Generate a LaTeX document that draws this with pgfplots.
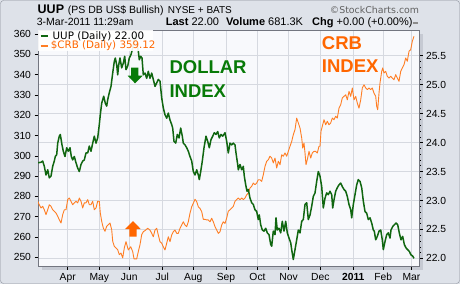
\documentclass[border=0pt]{standalone}
\usepackage{pgfplots}
\pgfplotsset{compat=1.18}
\usepackage{fontspec}
\setmainfont{Liberation Sans}
\newfontfamily\dejavu{DejaVu Sans}
\definecolor{outerbg}{RGB}{222,226,233}
\definecolor{plotbg}{RGB}{248,249,252}
\definecolor{gridcol}{RGB}{214,217,224}
\definecolor{axiscol}{RGB}{115,118,128}
\definecolor{shadowcol}{RGB}{198,202,211}
\definecolor{bordercol}{RGB}{140,145,155}
\definecolor{uupgreen}{RGB}{16,102,16}
\definecolor{txtgreen}{RGB}{8,122,8}
\definecolor{crborange}{RGB}{255,126,36}
\definecolor{txtorange}{RGB}{255,102,0}
\pgfplotsset{
  base/.style={scale only axis, width=381pt, height=236pt, at={(38pt,18pt)}, anchor=south west,
    xmin=38, xmax=419, clip=true,
    /pgf/number format/assume math mode=true,
    ticklabel style={font=\fontsize{10.3}{12}\selectfont},
    tick align=outside, major tick length=3.5pt, minor tick length=1.5pt,
    tick style={draw=black, line width=0.5pt},
    axis line style={draw=axiscol, line width=0.7pt}},
}
\begin{document}
\begin{tikzpicture}
\fill[outerbg] (0pt,0pt) rectangle (460pt,284pt);
\draw[bordercol, rounded corners=3pt] (0.5pt,0.5pt) rectangle (459.5pt,283.5pt);
\fill[shadowcol] (42pt,14pt) rectangle (423pt,250pt);

% axis A: UUP scale, grid, right ticks, x ticks
\begin{axis}[base,
  ymin=21.868, ymax=25.944,
  axis background/.style={fill=plotbg},
  xtick={67.7,99.3,129.3,162.3,193.3,226,257.5,288.5,320.3,353.3,383.3,411.5},
  xticklabels={Apr,May,Jun,Jul,Aug,Sep,Oct,Nov,Dec,\textbf{2011},Feb,Mar},
  xtick pos=bottom,
  ytick={22,22.5,23,23.5,24,24.5,25,25.5},
  ytick pos=right, yticklabel pos=right,
  minor y tick num=4,
  grid=major, major grid style={draw=gridcol, line width=0.6pt},
  yticklabel style={/pgf/number format/.cd, fixed, fixed zerofill, precision=1},
]
\end{axis}

% axis B: CRB scale, left ticks, orange line
\begin{axis}[base,
  ymin=245.7, ymax=362.0,
  hide x axis, axis y line*=left,
  ytick={250,260,270,280,290,300,310,320,330,340,350,360},
]
\addplot[crborange, line width=0.9pt, line join=round] coordinates {
(36,276.8)(37.7,277.6)(39.3,275.9)(41,274.3)(42.7,275.1)(44.3,273.4)(46,271.0)(47.7,273.4)(49.3,275.9)(51,275.1)(52.7,273.4)(54.3,272.7)(56,271.8)(57.7,270.2)(59.3,268.5)(61,266.9)(62.7,271.0)(64.3,273.4)(66,273.4)(67.7,278.4)(69.3,279.2)(71,277.6)(72.7,275.9)(74.3,276.8)(76,277.6)(77.7,276.8)(79.3,279.2)(81,277.6)(82.7,274.3)(84.3,276.8)(86,276.8)(87.7,278.4)(89.3,275.9)(91,275.9)(92.7,277.6)(94.3,273.4)(96,274.3)(97.7,277.6)(99.3,277.6)(100.3,271.8)(101.7,267.7)(103.3,264.4)(105,262.8)(106.7,265.3)(108.3,266.1)(110,266.9)(111.7,263.6)(112.7,257.9)(114.3,255.4)(116,254.6)(117.7,253.7)(119.3,251.3)(121,252.1)(122.7,249.7)(124.3,254.6)(126,257.7)(128.3,253.6)(130.7,255.2)(132.7,252.8)(134,249.2)(136.7,249.2)(138.3,252.8)(140,256.2)(141.7,261.1)(143.3,262.6)(145.7,263.4)(147.7,264.3)(150,263.4)(151.7,261.8)(153.3,260.1)(155,263.4)(156.7,264.3)(158.3,261.0)(160,257.7)(161.7,256.9)(163.3,255.2)(165,253.6)(166.7,256.9)(168.3,260.1)(170,257.7)(171.7,261.0)(173.3,262.6)(175,263.4)(176.7,261.8)(178.3,261.8)(180,264.3)(181.7,265.9)(183.3,267.5)(185,265.9)(186.7,265.1)(188.3,267.5)(190,271.7)(191.7,274.9)(193.3,276.6)(195,278.6)(196.7,277.4)(198.3,274.9)(200,274.1)(201.7,272.5)(203.3,268.7)(205,268.7)(206.7,268.4)(208.3,268.4)(210,267.5)(211.7,269.2)(213.3,267.5)(215,265.1)(216.7,263.4)(218.3,261.8)(220,262.6)(221.7,265.9)(223.3,267.5)(225,266.7)(226.7,269.4)(228.3,272.7)(230,273.4)(231.7,274.3)(233.3,275.1)(235,277.6)(236.7,278.4)(238.3,279.2)(240,278.4)(241.7,279.2)(243.3,278.4)(245,279.2)(246.7,280.8)(248.3,281.7)(250,284.1)(251.7,285.0)(253.3,286.6)(255,285.8)(256.7,286.6)(258.3,288.2)(260,288.2)(261.7,287.4)(263.3,290.7)(265,294.8)(266.7,297.3)(268.3,298.1)(270,299.8)(271.7,298.9)(273.3,296.5)(275,298.9)(276.7,294.0)(278.3,297.3)(280,295.6)(281.7,300.5)(283.3,299.8)(285,301.4)(286.7,299.8)(288.3,302.2)(290,304.7)(291.7,307.1)(293.3,310.4)(295,312.9)(296.7,318.6)(298.3,316.2)(300,313.7)(301.7,308.8)(302.7,303.8)(304,306.3)(305,301.4)(306,295.6)(307.3,298.1)(309,302.2)(310.7,298.9)(312.3,301.4)(314,302.2)(315.7,302.2)(317.3,301.4)(319,304.7)(320,304.7)(321,312.1)(322.7,315.3)(324,317.8)(325.7,315.3)(327.3,317.0)(329,315.3)(330.7,316.2)(332.3,318.6)(334,317.8)(335.7,319.5)(337.3,318.6)(339,323.5)(340.7,325.2)(342.3,328.5)(344,329.3)(345.7,330.1)(347.3,327.6)(349,331.8)(350.7,329.3)(352.3,333.4)(354,327.6)(355.7,329.3)(357.3,326.0)(359,323.5)(360.7,327.6)(362.3,333.4)(364,335.0)(365.7,333.4)(367.3,332.6)(369,333.4)(370.7,332.6)(372.3,333.4)(374,330.9)(375.7,329.3)(376.7,324.4)(377.7,322.7)(379,330.9)(380,335.9)(381.7,341.6)(382.7,343.3)(384,340.8)(385.7,341.6)(387.3,339.2)(389,338.3)(390.7,339.2)(392.3,338.3)(394,337.5)(395.7,340.0)(397.3,338.3)(399,336.7)(400.7,341.6)(402.3,343.3)(404,344.9)(405.7,348.2)(407.3,346.6)(409,351.5)(410.7,352.3)(412.3,356.4)(414,358.9)
};
\end{axis}

% axis C: UUP line
\begin{axis}[base, ymin=21.868, ymax=25.944, hide axis]
\addplot[uupgreen, line width=1.5pt, line join=round] coordinates {
(37.7,23.65)(41,23.66)(42.7,23.68)(44.3,23.59)(46,23.44)(47.7,23.53)(49.3,23.39)(51,23.42)(52.7,23.59)(54.3,23.68)(55.3,23.76)(56.7,23.79)(57.7,23.99)(59.3,24.11)(60.3,24.14)(62,23.96)(63.3,23.85)(65,23.76)(66.7,23.91)(68.3,23.85)(70,23.91)(71.3,23.76)(72.7,23.70)(74.3,23.76)(76,23.65)(77.7,23.56)(79.3,23.50)(81,23.62)(82.7,23.68)(84.3,23.70)(86,23.82)(87.7,23.82)(89.3,23.94)(91,23.85)(92.7,23.99)(94.3,24.11)(96,23.99)(97.7,24.08)(99.3,24.31)(100.3,24.48)(101.7,24.68)(103.7,24.80)(105.3,24.68)(106.7,24.63)(107.7,24.74)(109.3,24.86)(111,24.97)(112.7,25.20)(114.3,25.40)(115.3,25.46)(116.7,25.34)(117.7,25.17)(118.7,25.34)(120,25.46)(121.7,25.29)(123.3,25.37)(124.7,25.49)(126,25.26)(127.7,25.32)(129.3,25.46)(131,25.52)(132.7,25.63)(133.7,25.75)(135,25.84)(136.5,25.74)(138.3,25.58)(139.3,25.43)(140.7,25.49)(142,25.46)(143.3,25.17)(145,25.20)(146.7,25.11)(148.3,25.23)(150,25.11)(151.7,25.20)(153.3,25.09)(155,24.97)(156.7,25.03)(158.3,25.09)(160,25.06)(161.7,24.77)(163.3,24.60)(165,24.48)(166.7,24.42)(168.3,24.51)(170,24.39)(171.7,24.31)(172.7,24.25)(174,24.02)(175.7,23.99)(177.3,24.14)(179,24.08)(180.7,24.25)(182.3,24.11)(183.3,23.99)(185,23.96)(186.7,23.91)(188.3,23.85)(190,23.76)(191.7,23.68)(193.3,23.50)(195,23.44)(196.7,23.53)(198.3,23.44)(199.3,23.36)(200.7,23.50)(202.3,23.68)(204,23.91)(206,24.11)(207.7,24.02)(209.3,23.91)(211,24.05)(212.7,24.11)(214.3,24.17)(216,24.14)(217.7,24.19)(219.3,24.08)(221,24.14)(222.7,24.11)(225,24.17)(226.7,24.02)(228.3,23.82)(230,23.99)(231.7,23.96)(233.3,23.99)(235,23.96)(236,23.82)(237.7,23.62)(238.3,23.53)(240,23.62)(241.7,23.53)(243.3,23.59)(244.3,23.42)(245.7,23.27)(247,23.16)(248.3,23.19)(250,23.04)(251.7,22.96)(253.3,22.93)(255,22.84)(256.7,22.81)(258.3,22.67)(259.3,22.75)(260.7,22.58)(262.3,22.49)(264,22.47)(265.7,22.52)(267.3,22.44)(269,22.41)(270.7,22.24)(271.7,22.21)(273.3,22.47)(275,22.41)(276,22.70)(277.3,22.49)(279,22.52)(280.7,22.44)(282.3,22.64)(284,22.47)(285.7,22.64)(287.3,22.44)(289,22.35)(290.7,22.27)(291.7,22.15)(293.3,21.98)(295,22.15)(296.7,22.32)(298.3,22.49)(300,22.44)(301.7,22.64)(303.3,22.67)(305,22.93)(306.7,22.96)(308.3,22.67)(310,22.75)(311.7,22.90)(313.3,23.07)(315,23.13)(316.7,23.33)(318.3,23.50)(320,23.42)(321.7,23.24)(323.3,22.87)(325,23.04)(326.7,23.13)(328.3,23.10)(330,23.16)(331.7,23.10)(332.7,22.87)(334,23.01)(335.7,23.16)(337.3,23.22)(339,23.27)(340.7,23.30)(342.3,23.24)(344,23.19)(345.7,23.16)(347.3,23.07)(349,22.93)(350.7,22.84)(351.7,22.70)(353.3,22.93)(355,23.10)(356.7,23.27)(358.3,23.36)(360,23.33)(361.7,23.22)(363.3,22.99)(365,22.81)(366.7,22.78)(368.3,22.67)(370,22.70)(371.7,22.61)(373.3,22.49)(374.3,22.47)(375.7,22.32)(377.3,22.38)(379,22.47)(380.7,22.49)(382.3,22.32)(383.3,22.15)(385,22.29)(386.7,22.41)(388.3,22.44)(390,22.35)(391,22.49)(392.7,22.55)(394.3,22.58)(396,22.61)(397.7,22.58)(399.3,22.44)(401,22.32)(402.7,22.38)(404.3,22.24)(406,22.18)(407.7,22.15)(409.3,22.12)(411,22.06)(412.7,22.04)(414,22.00)
};
\end{axis}

% legend box
\fill[white, opacity=0.92] (38.4pt,233pt) rectangle (153pt,253.6pt);
\draw[uupgreen, line width=2pt] (40.7pt,248pt) -- (48.3pt,248pt);
\node[anchor=base west, inner sep=0pt, font=\dejavu\fontsize{10.3}{12}\selectfont] at (52.5pt,244.6pt) {UUP (Daily) 22.00};
\draw[crborange, line width=2pt] (40.7pt,238pt) -- (48.3pt,238pt);
\node[anchor=base west, inner sep=0pt, text=txtorange, font=\dejavu\fontsize{10.3}{12}\selectfont] at (50.7pt,235.3pt) {\$CRB (Daily) 359.12};

% annotations
\node[anchor=base west, inner sep=0pt, text=txtgreen, font=\bfseries\fontsize{18.5}{20}\selectfont] at (169.3pt,210.1pt) {DOLLAR};
\node[anchor=base west, inner sep=0pt, text=txtgreen, font=\bfseries\fontsize{18.5}{20}\selectfont] at (169.3pt,186.7pt) {INDEX};
\node[anchor=base west, inner sep=0pt, text=txtorange, font=\bfseries\fontsize{18.5}{20}\selectfont] at (321.7pt,234.3pt) {CRB};
\node[anchor=base west, inner sep=0pt, text=txtorange, font=\bfseries\fontsize{18.5}{20}\selectfont] at (321.7pt,211pt) {INDEX};
\fill[txtgreen] (131pt,216.3pt) -- (138.3pt,216.3pt) -- (138.3pt,208.3pt) -- (142.7pt,208.3pt) -- (135pt,200.7pt) -- (127.7pt,208.3pt) -- (131pt,208.3pt) -- cycle;
\fill[txtorange] (133pt,63pt) -- (140.7pt,55pt) -- (136.7pt,55pt) -- (136.7pt,47.3pt) -- (129.3pt,47.3pt) -- (129.3pt,55pt) -- (125pt,55pt) -- cycle;

% header
\node[anchor=base west, inner sep=0pt, font=\bfseries\fontsize{12.5}{14}\selectfont] at (37.5pt,270pt) {UUP};
\node[anchor=base west, inner sep=0pt, font=\fontsize{10.5}{12}\selectfont] at (67.7pt,270pt) {(PS DB US\$ Bullish)};
\node[anchor=base west, inner sep=0pt, font=\fontsize{10}{12}\selectfont] at (167.7pt,270pt) {NYSE + BATS};
\node[anchor=base east, inner sep=0pt, text=black!62, font=\dejavu\fontsize{9.4}{12}\selectfont] at (419.3pt,270pt) {©StockCharts.com};
\node[anchor=base west, inner sep=0pt, font=\fontsize{10.5}{12}\selectfont] at (36.7pt,258pt) {3-Mar-2011 11:29am};
\node[anchor=base west, inner sep=0pt, font=\fontsize{11}{12}\selectfont] at (165.7pt,258pt) {\textbf{Last} 22.00};
\node[anchor=base west, inner sep=0pt, font=\fontsize{11}{12}\selectfont] at (226pt,258pt) {\textbf{Volume} 681.3K};
\node[anchor=base west, inner sep=0pt, font=\fontsize{11}{12}\selectfont] at (312pt,258pt) {\textbf{Chg} +0.00 (+0.00\%)};
\draw[black!45, line width=2pt] (412.7pt,260.5pt) -- (418.3pt,260.5pt);
\end{tikzpicture}
\end{document}
